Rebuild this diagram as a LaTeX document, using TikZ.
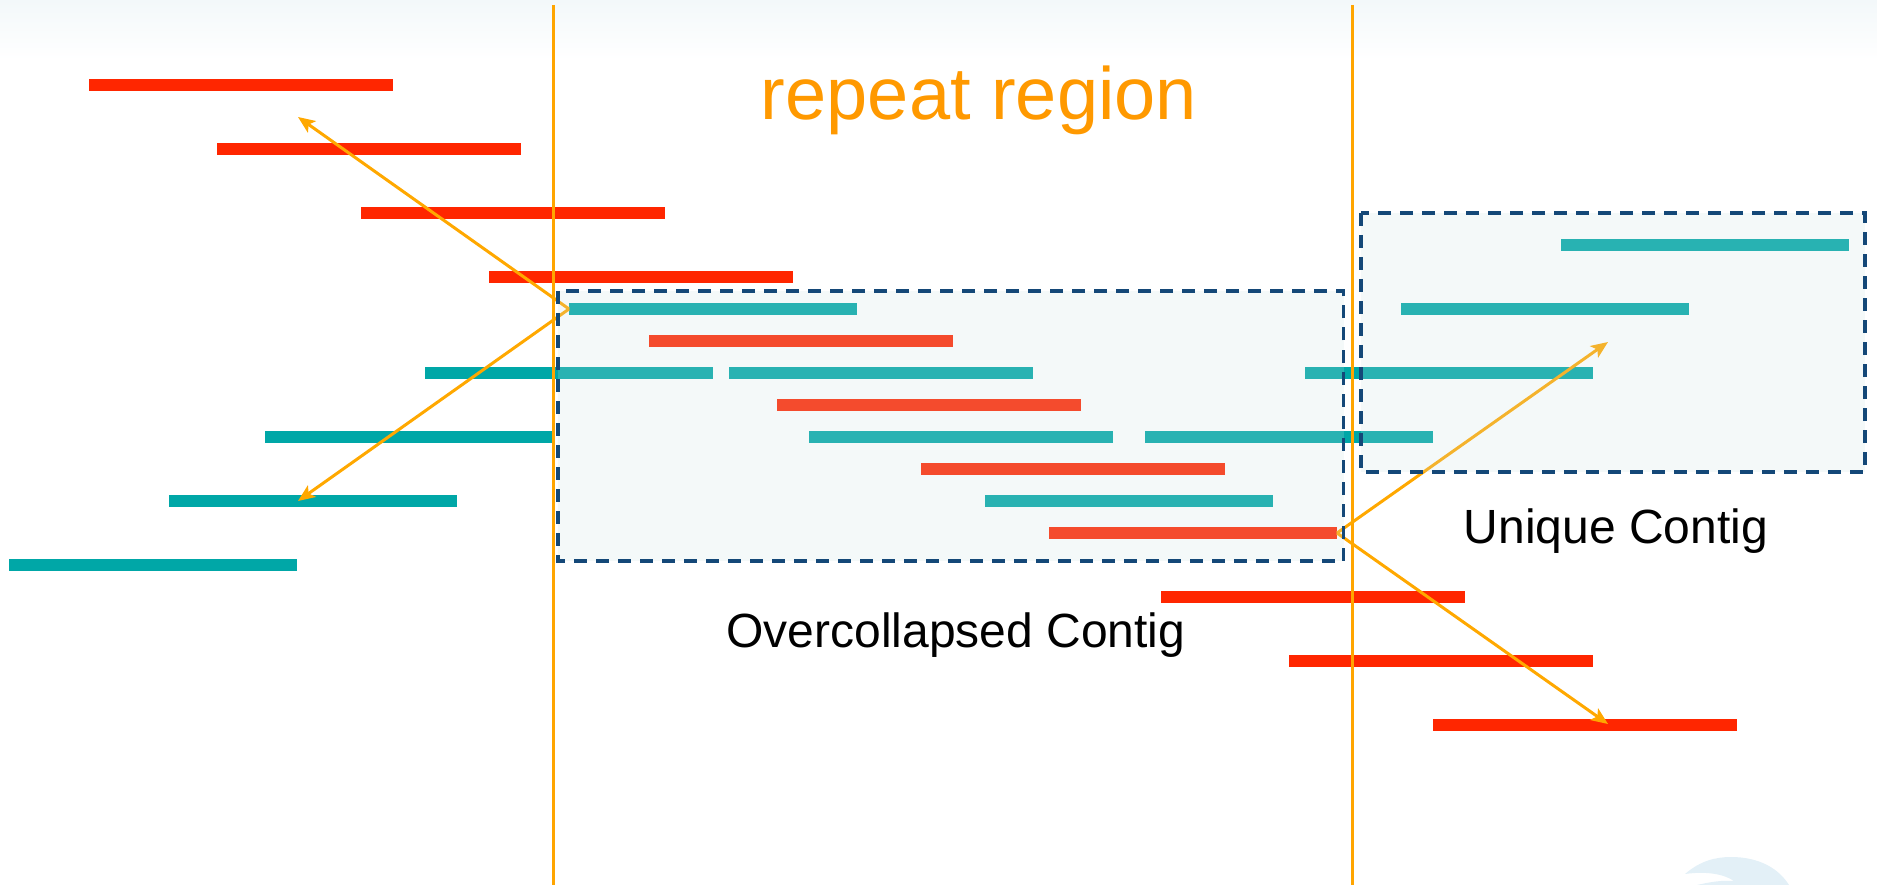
\documentclass[tikz,border=0pt]{standalone}
\usepackage{fontspec}
\setmainfont{Liberation Sans}
\usetikzlibrary{arrows.meta}
\definecolor{readred}{RGB}{255,38,0}
\definecolor{readteal}{RGB}{0,167,167}
\definecolor{guide}{RGB}{255,165,0}
\definecolor{pointer}{RGB}{255,168,0}
\definecolor{titleorange}{RGB}{255,153,0}
\definecolor{boxline}{RGB}{20,72,120}
\definecolor{boxtint}{RGB}{200,225,225}
\definecolor{logomark}{RGB}{227,240,247}
\definecolor{skytop}{RGB}{243,248,250}
\begin{document}
\begin{tikzpicture}[x=1pt,y=-1pt,
  read/.style={rectangle, inner sep=0pt, outer sep=0pt, minimum height=12pt, draw=none},
  redread/.style={read, fill=readred},
  tealread/.style={read, fill=readteal},
  guideline/.style={draw=guide, line width=3pt},
  pointer/.style={draw=pointer, line width=3pt, -{Stealth[length=17pt,width=14pt,inset=4pt]}},
  contig/.style={draw=boxline, line width=3.5pt, dash pattern=on 13pt off 9pt,
                 fill=boxtint, fill opacity=0.2, draw opacity=1},
  caption/.style={inner sep=0pt, anchor=base, font=\fontsize{48}{56}\selectfont}
]
% canvas
\useasboundingbox (0,0) rectangle (1877,885);
\shade[top color=skytop, bottom color=white, draw=none] (0,0) rectangle (1877,60);

% faint logo in the corner
\fill[logomark] (1685,874) .. controls (1700,861) and (1715,857) .. (1731,857)
  .. controls (1760,857) and (1779,869) .. (1789,885) -- (1697,885)
  .. controls (1710,882) and (1722,880) .. (1734,881)
  .. controls (1724,874) and (1706,871) .. (1685,874) -- cycle;

% reads of the first repeat copy
\node[redread, minimum width=304pt] (r1) at (241,85) {};
\node[redread, minimum width=304pt] (r2) at (369,149) {};
\node[redread, minimum width=304pt] (r3) at (513,213) {};
\node[redread, minimum width=304pt] (r4) at (641,277) {};
\node[redread, minimum width=304pt] (r5) at (801,341) {};
\node[redread, minimum width=304pt] (r6) at (929,405) {};
\node[redread, minimum width=304pt] (r7) at (1073,469) {};
\node[redread, minimum width=288pt] (r8) at (1193,533) {};
\node[redread, minimum width=304pt] (r9) at (1313,597) {};
\node[redread, minimum width=304pt] (r10) at (1441,661) {};
\node[redread, minimum width=304pt] (r11) at (1585,725) {};

% reads of the second repeat copy
\node[tealread, minimum width=288pt] (t1) at (713,309) {};
\node[tealread, minimum width=288pt] (t2) at (569,373) {};
\node[tealread, minimum width=304pt] (t3) at (881,373) {};
\node[tealread, minimum width=288pt] (t4) at (1449,373) {};
\node[tealread, minimum width=288pt] (t5) at (409,437) {};
\node[tealread, minimum width=304pt] (t6) at (961,437) {};
\node[tealread, minimum width=288pt] (t7) at (1289,437) {};
\node[tealread, minimum width=288pt] (t8) at (1129,501) {};
\node[tealread, minimum width=288pt] (t9) at (313,501) {};
\node[tealread, minimum width=288pt] (t10) at (153,565) {};
\node[tealread, minimum width=288pt] (t11) at (1705,245) {};
\node[tealread, minimum width=288pt] (t12) at (1545,309) {};

% repeat boundaries
\coordinate (lt) at (553,5);   \coordinate (lb) at (553,885);
\coordinate (rt) at (1352.5,5); \coordinate (rb) at (1352.5,885);
\draw[guideline] (lt) -- (lb);
\draw[guideline] (rt) -- (rb);

% ambiguous joins
\coordinate (vl) at (t1.west);
\coordinate (vr) at (r8.east);
\coordinate (ul) at (298,117);
\coordinate (dl) at (298,501);
\coordinate (ur) at (1608,342);
\coordinate (dr) at (1608,724);
\draw[pointer] (vl) -- (ul);
\draw[pointer] (vl) -- (dl);
\draw[pointer] (vr) -- (ur);
\draw[pointer] (vr) -- (dr);

% contigs
\draw[contig] (558,291) rectangle (1343.5,561);
\draw[contig] (1361,213) rectangle (1865,472);

% labels
\node[inner sep=0pt, anchor=base, text=titleorange, font=\fontsize{74}{80}\selectfont] (title) at (979,120) {repeat region};
\node[caption] (over) at (956,647) {Overcollapsed Contig};
\node[caption] (uniq) at (1616,543) {Unique Contig};
\end{tikzpicture}
\end{document}
